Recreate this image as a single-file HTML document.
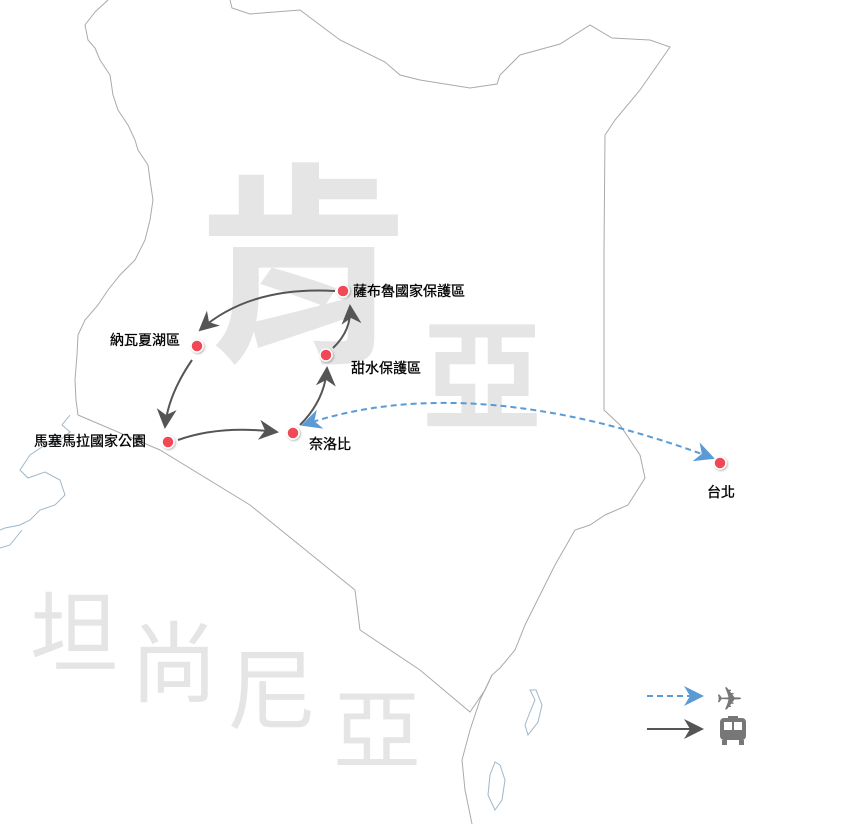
<!DOCTYPE html>
<html><head><meta charset="utf-8"><style>
html,body{margin:0;padding:0;background:#fff;width:860px;height:824px;overflow:hidden}
svg{display:block}
.wm{font-family:"Liberation Sans","Noto Sans CJK TC",sans-serif;fill:#e5e5e5}
.lb{font-family:"Liberation Sans","Noto Sans CJK TC",sans-serif;font-size:14px;fill:#000;stroke:#000;stroke-width:0.3}
</style></head><body>
<svg width="860" height="824" viewBox="0 0 860 824" xmlns="http://www.w3.org/2000/svg">
<defs>
<marker id="ag" viewBox="0 0 10 10" refX="9" refY="5" markerWidth="10" markerHeight="10" orient="auto-start-reverse"><path d="M0,0 L10,5 L0,10 L3,5z" fill="#555"/></marker>
<marker id="ab" viewBox="0 0 10 10" refX="9" refY="5" markerWidth="10" markerHeight="10" orient="auto-start-reverse"><path d="M0,0 L10,5 L0,10 L3,5z" fill="#5b9bd5"/></marker>
<filter id="sh"><feDropShadow dx="1" dy="1" stdDeviation="1" flood-color="#000" flood-opacity="0.3"/></filter>
</defs>
<text class="wm" x="196" y="345" font-size="215" font-weight="bold">肯</text>
<text class="wm" x="422" y="420" font-size="120" font-weight="bold">亞</text>
<text class="wm" x="30" y="665" font-size="88">坦</text>
<text class="wm" x="130" y="695" font-size="88">尚</text>
<text class="wm" x="228" y="722" font-size="88">尼</text>
<text class="wm" x="333" y="762" font-size="88">亞</text>
<g fill="none" stroke="#aaa" stroke-width="1">
<path d="M108,0 L95,12 L85,25 L88,40 L95,48 L100,60 L110,75 L113,95 L118,110 L128,125 L135,140 L138,150 L148,165 L150,180 L153,200 L150,220 L145,240 L135,260 L120,275 L108,290 L98,305 L85,320 L78,335 L77,355 L75,380 L76,400 L78,415"/>
<path d="M78,415 L160,450 L250,505 L355,590 L360,630 L420,670 L470,712 L485,690 L492,675"/>
<path d="M230,0 L232,8 L250,14 L300,10 L340,40 L385,62 L400,75 L420,80 L470,88 L497,84 L500,75 L520,55 L560,44 L590,25 L612,38 L650,40 L670,47 L640,90 L615,120 L605,135 L604,250 L604,410 L620,425 L640,455 L645,478 L628,505 L605,515 L590,525 L575,530 L555,565 L545,585 L525,625 L515,650 L500,668 L492,675 L480,700 L470,730 L462,760 L465,790 L472,824"/>
</g>
<g fill="none" stroke="#9fb7c8" stroke-width="1">
<path d="M70,415 L62,425 L70,432 L60,440 L45,445 L30,455 L20,470 L28,478 L45,472 L60,480 L65,495 L55,505 L40,510 L30,520 L20,525 L5,528 L0,530"/>
<path d="M0,548 L10,545 L22,530"/>
<path d="M530,690 L535,700 L530,712 L525,725 L528,735 L538,722 L542,705 L536,690z"/>
<path d="M495,762 L490,775 L488,795 L495,810 L502,800 L505,780 L500,765z"/>
</g>
<g fill="none" stroke="#555" stroke-width="2">
<path d="M335,291 Q250,286 200,330" marker-end="url(#ag)"/>
<path d="M192,360 Q168,395 165,427" marker-end="url(#ag)"/>
<path d="M178,440 Q220,425 277,432" marker-end="url(#ag)"/>
<path d="M300,425 Q325,400 327,368" marker-end="url(#ag)"/>
<path d="M333,348 Q352,330 350,306" marker-end="url(#ag)"/>
</g>
<path d="M303,425 Q470,368 713,458" fill="none" stroke="#5b9bd5" stroke-width="2" stroke-dasharray="6,4" marker-start="url(#ab)" marker-end="url(#ab)"/>
<g fill="#f04a55" stroke="#fff" stroke-width="1.5" filter="url(#sh)">
<circle cx="343" cy="291" r="6"/>
<circle cx="197" cy="346" r="6"/>
<circle cx="168" cy="442" r="6"/>
<circle cx="293" cy="433" r="6"/>
<circle cx="326" cy="355" r="6"/>
<circle cx="720" cy="463" r="6"/>
</g>
<text class="lb" x="353" y="296">薩布魯國家保護區</text>
<text class="lb" x="110" y="345">納瓦夏湖區</text>
<text class="lb" x="34" y="446">馬塞馬拉國家公園</text>
<text class="lb" x="309" y="449">奈洛比</text>
<text class="lb" x="351" y="373">甜水保護區</text>
<text class="lb" x="707" y="497">台北</text>
<line x1="647" y1="696" x2="702" y2="696" stroke="#5b9bd5" stroke-width="2" stroke-dasharray="6,4" marker-end="url(#ab)"/>
<line x1="647" y1="729" x2="702" y2="729" stroke="#555" stroke-width="2" marker-end="url(#ag)"/>
<text x="716" y="710" font-size="32" fill="#777" font-family="DejaVu Sans,sans-serif">✈</text>
<g fill="#777">
<rect x="720" y="718" width="26" height="22" rx="4"/>
<rect x="722" y="740" width="5" height="5"/>
<rect x="739" y="740" width="5" height="5"/>
<rect x="724" y="722" width="8" height="8" fill="#fff"/>
<rect x="734" y="722" width="8" height="8" fill="#fff"/>
<rect x="728" y="716" width="10" height="3"/>
</g>
</svg>
</body></html>
